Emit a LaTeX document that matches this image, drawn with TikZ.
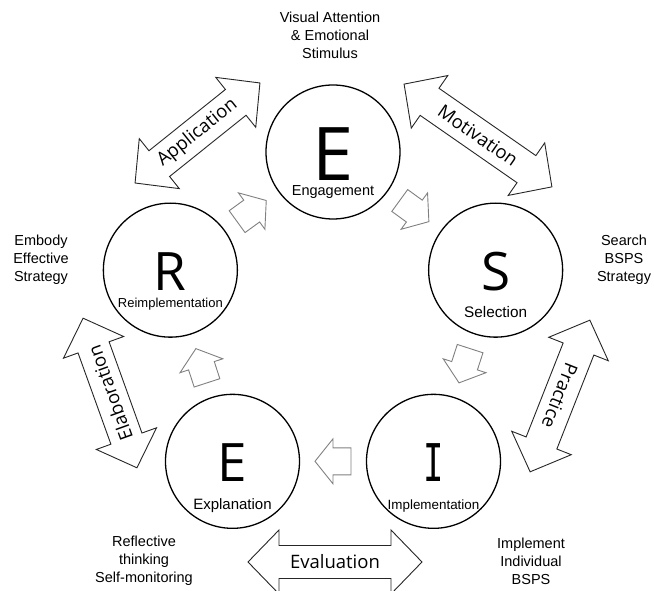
\documentclass[tikz,border=0pt]{standalone}
\usepackage{fontspec}
\setmainfont{Liberation Sans}
\newfontfamily\glyphfont{Open Sans}
\newfontfamily\barfont{DejaVu Sans Mono}
\usetikzlibrary{calc}

\tikzset{
  stage/.style={circle, draw=black, line width=1.3pt, minimum size=134pt, inner sep=0pt},
  bigarrow/.style={draw=black!85, line width=0.9pt, fill=white, line join=miter},
  smallarrow/.style={draw=black!50, line width=0.9pt, fill=white, line join=miter},
  arrowlabel/.style={font=\glyphfont\fontsize{18.5}{20}\selectfont, inner sep=0pt},
  sidenote/.style={align=center, font=\fontsize{14.5}{18}\selectfont, inner sep=0pt},
  stagename/.style={inner sep=0pt, anchor=base},
  initial/.style={inner sep=0pt, anchor=base, font=\glyphfont\fontsize{53}{53}\selectfont},
}

% double-headed block arrow: name, centre, angle, length, label
\newcommand\dblarrow[5]{%
  \begin{scope}[shift={#2}, rotate=#3]
    \pgfmathsetmacro\hl{#4/2}
    \draw[bigarrow] (-\hl,0) -- (-\hl+31,32) -- (-\hl+31,16.5) -- (\hl-31,16.5)
      -- (\hl-31,32) -- (\hl,0) -- (\hl-31,-32) -- (\hl-31,-16.5)
      -- (-\hl+31,-16.5) -- (-\hl+31,-32) -- cycle;
  \end{scope}
  \node[arrowlabel, rotate=#3] (#1) at #2 {#5};}

% small hollow arrow half way between two stages
\newcommand\steparrow[3]{%
  \begin{scope}[shift={($(#1)!0.5!(#2)$)}, rotate=#3]
    \draw[smallarrow] (-18,-13.5) -- (0,-13.5) -- (0,-22.5) -- (18,0)
      -- (0,22.5) -- (0,13.5) -- (-18,13.5) -- cycle;
  \end{scope}}

\begin{document}
\begin{tikzpicture}[x=1pt,y=1pt]
\useasboundingbox (0,0) rectangle (654,591);
\coordinate (O) at (333,268);

% the five stages
\node[stage] (eng) at ($(O)+(90:171)$) {};
\node[stage] (sel) at ($(O)+(18:171)$) {};
\node[stage] (imp) at ($(O)+(-54:171)$) {};
\node[stage] (exp) at ($(O)+(-126:171)$) {};
\node[stage] (rei) at ($(O)+(162:171)$) {};

\node[initial, font=\glyphfont\fontsize{74}{74}\selectfont] (engL) at ($(eng)+(0,-29)$) {E};
\node[initial] (selL) at ($(sel)+(0,-20)$) {S};
\node[initial, font=\barfont\fontsize{52}{52}\selectfont] (impL) at ($(imp)+(0,-20)$) {\scalebox{0.65}[1]{I}};
\node[initial] (expL) at ($(exp)+(0,-20)$) {E};
\node[initial] (reiL) at ($(rei)+(0,-20)$) {R};

\node[stagename, font=\fontsize{14.5}{16}\selectfont] (engN) at ($(eng)+(0,-44)$) {Engagement};
\node[stagename, font=\fontsize{15.3}{16}\selectfont] (selN) at ($(sel)+(0,-47)$) {Selection};
\node[stagename, font=\fontsize{13.4}{16}\selectfont] (impN) at ($(imp)+(0,-48)$) {Implementation};
\node[stagename, font=\fontsize{15}{16}\selectfont] (expN) at ($(exp)+(0,-48)$) {Explanation};
\node[stagename, font=\fontsize{13}{16}\selectfont] (reiN) at ($(rei)+(0,-37)$) {Reimplementation};

% cycle arrows
\steparrow{eng}{sel}{-36}
\steparrow{sel}{imp}{-108}
\steparrow{imp}{exp}{180}
\steparrow{exp}{rei}{108}
\steparrow{rei}{eng}{36}

% outer double arrows
\dblarrow{app}{(197.5,458)}{38.7}{160}{Application}
\dblarrow{mot}{(478,455.5)}{-34.8}{180}{Motivation}
\dblarrow{ela}{(110,198)}{109.8}{159}{Elaboration}
\dblarrow{pra}{(560,195)}{-111.5}{163}{Practice}
\dblarrow{eva}{(335,29)}{0}{174}{Evaluation}

% side notes
\node[sidenote] (n1) at (330,556) {Visual Attention\\\& Emotional\\Stimulus};
\node[sidenote] (n2) at (624,331) {Search\\BSPS\\Strategy};
\node[sidenote] (n3) at (531,30) {Implement\\Individual\\BSPS};
\node[sidenote] (n4) at (144,30) {Reflective\\thinking\\Self-monitoring};
\node[sidenote] (n5) at (41,331) {Embody\\Effective\\Strategy};
\end{tikzpicture}
\end{document}
